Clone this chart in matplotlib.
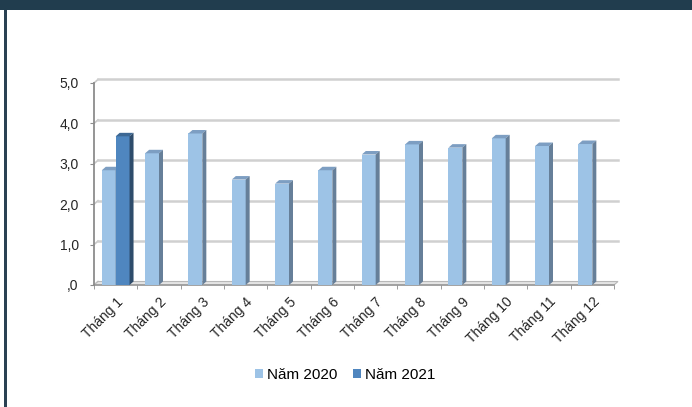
import numpy as np
import matplotlib.pyplot as plt
from matplotlib.patches import Polygon, Patch, Rectangle

plt.rcParams['font.family'] = ['Liberation Sans', 'DejaVu Sans']

months = ["Tháng 1", "Tháng 2", "Tháng 3", "Tháng 4", "Tháng 5", "Tháng 6",
          "Tháng 7", "Tháng 8", "Tháng 9", "Tháng 10", "Tháng 11", "Tháng 12"]
nam2020 = [2.84, 3.26, 3.75, 2.61, 2.51, 2.84, 3.23, 3.48, 3.40, 3.63, 3.44, 3.49]
nam2021 = [3.68, np.nan, np.nan, np.nan, np.nan, np.nan,
           np.nan, np.nan, np.nan, np.nan, np.nan, np.nan]
yticks = [0, 1, 2, 3, 4, 5]
ytick_labels = [",0", "1,0", "2,0", "3,0", "4,0", "5,0"]

# colours: front, top, side
c2020 = ("#9DC3E6", "#7D9EC2", "#667F99")
c2021 = ("#4F86BF", "#3D6894", "#2E4C6B")

W, H = 692, 407
fig = plt.figure(figsize=(W / 100, H / 100), dpi=100)
left, right, bottom, top = 94, 614, 285, 83
ax = fig.add_axes([left / W, 1 - bottom / H, (right - left) / W, (bottom - top) / H])
ax.set_xlim(-0.5, 11.5)
ax.set_ylim(0, 5)

# 3D depth in data units (about 4 px right, 3.5 px up)
px_x = 12 / (right - left)
px_y = 5 / (bottom - top)
dx = 4 * px_x
dy = 3.5 * px_y

x = np.arange(len(months))
w = 0.32

# back wall gridlines
for t in yticks:
    ax.plot([-0.5, -0.5 + dx], [t, t + dy], color="#C8C8C8", lw=1.2, zorder=0, clip_on=False)
    if t > 0:
        ax.plot([-0.5 + dx, 11.5 + dx], [t + dy, t + dy], color="#D0D0D0", lw=1.8,
                zorder=0, clip_on=False)

# floor
floor = Polygon([(-0.5, 0), (-0.5 + dx, dy), (11.5 + dx, dy), (11.5, 0)],
                closed=True, facecolor="#E4E4E4", edgecolor="#B8B8B8", lw=0.8,
                zorder=0.5, clip_on=False)
ax.add_patch(floor)
ax.plot([-0.5, 11.5], [0, 0], color="#9A9A9A", lw=1.2, zorder=0.6, clip_on=False)


def draw_bars(xs, vals, cols):
    for xi, v in zip(xs, vals):
        if np.isnan(v):
            continue
        x0, x1 = xi, xi + w
        ax.bar(x0, v, w, align="edge", color=cols[0], edgecolor="none", zorder=2)
        ax.add_patch(Polygon([(x0, v), (x0 + dx, v + dy), (x1 + dx, v + dy), (x1, v)],
                             closed=True, facecolor=cols[1], edgecolor="none",
                             zorder=2, clip_on=False))
        ax.add_patch(Polygon([(x1, 0), (x1, v), (x1 + dx, v + dy), (x1 + dx, dy)],
                             closed=True, facecolor=cols[2], edgecolor="none",
                             zorder=2, clip_on=False))


draw_bars(x - w, nam2020, c2020)
draw_bars(x, nam2021, c2021)

for s in ["top", "right", "bottom"]:
    ax.spines[s].set_visible(False)
ax.spines["left"].set_color("#8C8C8C")
ax.spines["left"].set_linewidth(1.3)

ax.set_yticks(yticks)
ax.set_yticklabels(ytick_labels, fontsize=10, color="#262626")
ax.tick_params(axis="y", length=3, color="#8C8C8C", pad=8)

ax.set_xticks(x)
ax.set_xticklabels(months, rotation=45, ha="right", rotation_mode="anchor",
                   fontsize=10, color="#262626")
ax.set_xticks(np.arange(-0.5, 12, 1), minor=True)
ax.tick_params(axis="x", which="major", length=0, pad=7)
ax.tick_params(axis="x", which="minor", length=3, color="#8C8C8C", direction="out")

handles = [Patch(facecolor=c2020[0], label="Năm 2020"),
           Patch(facecolor=c2021[0], label="Năm 2021")]
fig.legend(handles=handles, loc="center", bbox_to_anchor=(0.5 - 1 / W, 1 - 375 / H),
           ncol=2, frameon=False, fontsize=11, handlelength=0.55, handleheight=0.55,
           handletextpad=0.25, columnspacing=1.0)

# frame decorations
fig.patches.append(Rectangle((0, 1 - 10 / H), 1, 10 / H, transform=fig.transFigure,
                             facecolor="#213D4E", edgecolor="none"))
fig.patches.append(Rectangle((4 / W, 0), 3 / W, 1 - 10 / H, transform=fig.transFigure,
                             facecolor="#2A4153", edgecolor="none"))

fig.savefig("out.png", dpi=100)
